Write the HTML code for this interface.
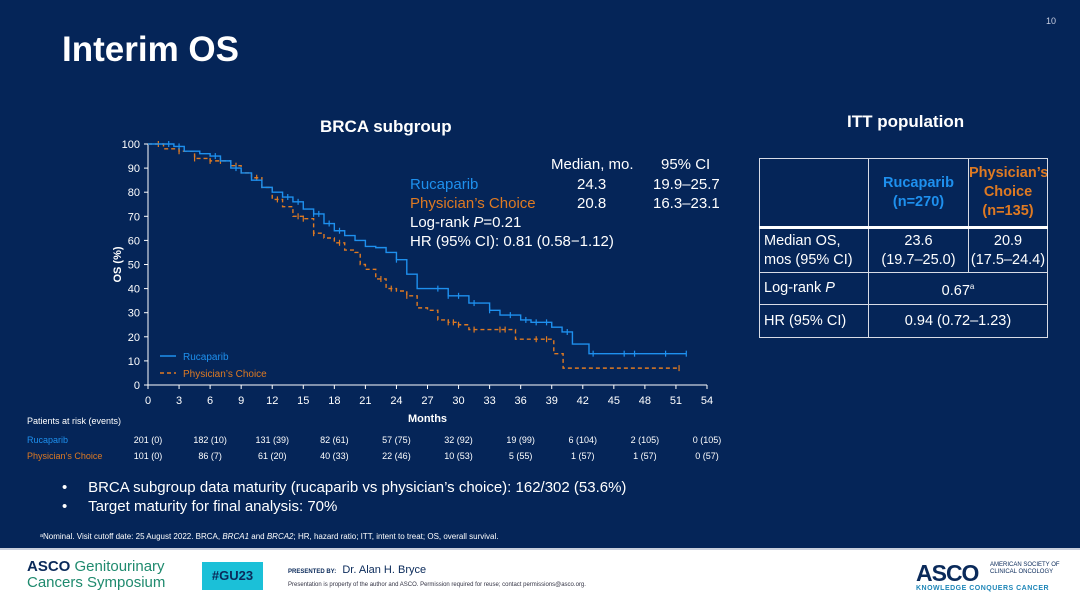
<!DOCTYPE html>
<html><head><meta charset="utf-8">
<style>
*{margin:0;padding:0;box-sizing:border-box}
body{width:1080px;height:597px;overflow:hidden;background:#fff;font-family:"Liberation Sans",sans-serif;position:relative}
.slide{position:absolute;left:0;top:0;width:1080px;height:548px;background:#052558}
.abs{position:absolute;white-space:nowrap}
.w{color:#fff}
.blue{color:#1e90ee}.orange{color:#df7a22}
table.itt{position:absolute;left:759px;top:158px;width:288px;table-layout:fixed;border-collapse:collapse;color:#fff;font-size:14.5px}
table.itt td{border:1.5px solid #d8dce6;text-align:center;line-height:19px;overflow:hidden}
</style></head><body>
<div class="slide">
<div class="abs w" style="left:62px;top:30px;font-size:35px;font-weight:bold">Interim OS</div>
<div class="abs" style="left:1046px;top:16px;font-size:9px;color:#c8cde0">10</div>
<div class="abs w" style="left:320px;top:117px;font-size:17px;font-weight:bold">BRCA subgroup</div>
<div class="abs w" style="left:847px;top:112px;font-size:17px;font-weight:bold">ITT population</div>

<svg id="chart" class="abs" style="left:0;top:0" width="1080" height="548"></svg>

<div class="abs w" style="left:551px;top:156px;font-size:15px">Median, mo.</div>
<div class="abs w" style="left:661px;top:156px;font-size:15px">95% CI</div>
<div class="abs blue" style="left:410px;top:176px;font-size:15px">Rucaparib</div>
<div class="abs w" style="left:577px;top:176px;font-size:15px">24.3</div>
<div class="abs w" style="left:653px;top:176px;font-size:15px">19.9–25.7</div>
<div class="abs orange" style="left:410px;top:195px;font-size:15px">Physician’s Choice</div>
<div class="abs w" style="left:577px;top:195px;font-size:15px">20.8</div>
<div class="abs w" style="left:653px;top:195px;font-size:15px">16.3–23.1</div>
<div class="abs w" style="left:410px;top:214px;font-size:15px">Log-rank <i>P</i>=0.21</div>
<div class="abs w" style="left:410px;top:233px;font-size:15px">HR (95% CI): 0.81 (0.58−1.12)</div>

<div class="abs w" style="left:27px;top:416px;font-size:9px">Patients at risk (events)</div>
<div class="abs blue" style="left:27px;top:435px;font-size:9px">Rucaparib</div>
<div class="abs orange" style="left:27px;top:451px;font-size:9px">Physician’s Choice</div>
<div id="risk"></div>

<div class="abs w" style="left:62px;top:479px;font-size:15px">•&nbsp;&nbsp;&nbsp;&nbsp;&nbsp;BRCA subgroup data maturity (rucaparib vs physician’s choice): 162/302 (53.6%)</div>
<div class="abs w" style="left:62px;top:498px;font-size:15px">•&nbsp;&nbsp;&nbsp;&nbsp;&nbsp;Target maturity for final analysis: 70%</div>
<div class="abs w" style="left:40px;top:532px;font-size:8px">ᵃNominal. Visit cutoff date: 25 August 2022. BRCA, <i>BRCA1</i> and <i>BRCA2</i>; HR, hazard ratio; ITT, intent to treat; OS, overall survival.</div>

<table class="itt">
<colgroup><col style="width:109px"><col style="width:100px"><col style="width:79px"></colgroup>
<tr style="height:69px"><td></td><td style="font-weight:bold" class="blue">Rucaparib<br>(n=270)</td><td style="font-weight:bold" class="orange">Physician’s<br>Choice<br>(n=135)</td></tr>
<tr style="height:45px;border-top:3px solid #fff"><td style="text-align:left;padding-left:4px">Median OS,<br>mos (95% CI)</td><td>23.6<br>(19.7–25.0)</td><td>20.9<br>(17.5–24.4)</td></tr>
<tr style="height:32px"><td style="text-align:left;padding-left:4px">Log-rank <i>P</i></td><td colspan="2">0.67<sup style="font-size:8px">a</sup></td></tr>
<tr style="height:33px"><td style="text-align:left;padding-left:4px">HR (95% CI)</td><td colspan="2">0.94 (0.72–1.23)</td></tr>
</table>
</div>

<div class="abs" style="left:0;top:548px;width:1080px;height:2px;background:#c9cfdc"></div>
<div class="abs" style="left:27px;top:559px;font-size:15px;line-height:16px;color:#1f8a6e"><b style="color:#0a2a5a">ASCO</b> Genitourinary<br>Cancers Symposium</div>
<div class="abs" style="left:202px;top:562px;width:61px;height:28px;background:#1bc0d8;color:#0a2a5a;font-weight:bold;font-size:13px;line-height:28px;text-align:center">#GU23</div>
<div class="abs" style="left:288px;top:564px;font-size:11px;color:#0a2a5a"><span style="font-size:6px;font-weight:bold">PRESENTED BY:</span>&nbsp; Dr. Alan H. Bryce</div>
<div class="abs" style="left:288px;top:582px;font-size:6px;color:#334">Presentation is property of the author and ASCO. Permission required for reuse; contact permissions@asco.org.</div>
<div class="abs" style="left:916px;top:560px;font-size:23px;font-weight:bold;color:#0a2a5a;letter-spacing:-1px">ASCO</div>
<div class="abs" style="left:990px;top:562px;font-size:6px;line-height:7px;color:#0a2a5a">AMERICAN SOCIETY OF<br>CLINICAL ONCOLOGY</div>
<div class="abs" style="left:916px;top:585px;font-size:7px;font-weight:bold;color:#1e86b8;letter-spacing:0.5px">KNOWLEDGE CONQUERS CANCER</div>

<script>
const xTicks=[0,3,6,9,12,15,18,21,24,27,30,33,36,39,42,45,48,51,54];
const yTicks=[0,10,20,30,40,50,60,70,80,90,100];
const rucMonths=[0,2.5,3.5,5,6,7,8,9,10,11,12,13,14,15,16,17,18,19,20,21,22,23,24,25,26,28,29,31,33,34,36,37,39,40,41,42.6,52];
const rucSurv=[100,99,97,96,95,93,90,88,85,82,80,78,76,73,71,67,64,62,60,57.5,57,55,52,46,40,40,37,34,31,29,27,26,24,22,17,13,13];
const rucCensor=[2,3,6.5,8.5,13.5,14.5,16,16.5,17.5,18.5,24,28,29,30,31.5,33,35,36.5,37.5,38.5,40.5,43,46,47,50,52];
const pcMonths=[0,1.5,3,4.5,6,8,9,10,11,12,13,14,15,16,17,18,19,20,20.5,21,22,23,24,25,26,27,28,29,30,31,35.5,39.2,40.1,51.3];
const pcSurv=[100,98,97,94,93,91,88,86,82,77,74,70,69,63,61,59,56,55,50,48,44,40,39,37,32,31,27,26,25,23,19,13,7,7];
const pcCensor=[1,3,4.5,6,7,8.5,10.5,12.5,14.5,15,16,18.5,22.5,23.5,25,29,29.5,30,31.5,34,34.5,37.5,38.5,51.3];
const riskRuc=["201 (0)","182 (10)","131 (39)","82 (61)","57 (75)","32 (92)","19 (99)","6 (104)","2 (105)","0 (105)"];
const riskPc=["101 (0)","86 (7)","61 (20)","40 (33)","22 (46)","10 (53)","5 (55)","1 (57)","1 (57)","0 (57)"];
const riskMonths=[0,6,12,18,24,30,36,42,48,54];

const X0=148,X1=707,Y0=385,Y1=144;
const xs=m=>X0+(X1-X0)*m/54;
const ys=v=>Y0-(Y0-Y1)*v/100;
const svg=document.getElementById('chart');
const NS='http://www.w3.org/2000/svg';
function mk(t,a){const e=document.createElementNS(NS,t);for(const k in a)e.setAttribute(k,a[k]);svg.appendChild(e);return e;}

let ax=mk('path',{d:`M${X0} ${Y1}V${Y0}H${X1}`,stroke:'#fff',fill:'none','stroke-width':1});


xTicks.forEach(t=>{
  const l=mk('line',{x1:xs(t),x2:xs(t),y1:Y0,y2:Y0+4,stroke:'#fff'});
  
  
  const tx=mk('text',{x:xs(t),y:Y0+19,fill:'#fff','font-size':11,'text-anchor':'middle','font-family':'Liberation Sans'});
  tx.textContent=t;
  
  
});
yTicks.forEach(t=>{
  const l=mk('line',{x1:X0-4,x2:X0,y1:ys(t),y2:ys(t),stroke:'#fff'});
  
  
  const tx=mk('text',{x:X0-8,y:ys(t)+4,fill:'#fff','font-size':11,'text-anchor':'end','font-family':'Liberation Sans'});
  tx.textContent=t;
  
  
});
let xt=mk('text',{x:(X0+X1)/2,y:422,fill:'#fff','font-size':11,'font-weight':'bold','text-anchor':'middle','font-family':'Liberation Sans'});
xt.textContent='Months';


let yt=mk('text',{x:0,y:0,fill:'#fff','font-size':11,'font-weight':'bold','text-anchor':'middle','font-family':'Liberation Sans',transform:`translate(121,${(Y0+Y1)/2}) rotate(-90)`});
yt.textContent='OS (%)';



function survAt(ms,sv,m){let v=sv[0];for(let i=0;i<ms.length;i++){if(ms[i]<=m)v=sv[i];}return v;}
function stepPath(ms,sv){let d=`M${xs(ms[0])} ${ys(sv[0])}`;for(let i=1;i<ms.length;i++){d+=`H${xs(ms[i])}V${ys(sv[i])}`;}return d;}
function series(ms,sv,cs,color,dash,name){
  const p=mk('path',{d:stepPath(ms,sv),stroke:color,fill:'none','stroke-width':1.4,'stroke-dasharray':dash});
  
  
  cs.forEach(m=>{
    const y=ys(survAt(ms,sv,m));
    const c=mk('line',{x1:xs(m),x2:xs(m),y1:y-3,y2:y+3,stroke:color,'stroke-width':1.2});
    
    
  });
}
series(pcMonths,pcSurv,pcCensor,'#df7a22','4 3','physicians-choice');
series(rucMonths,rucSurv,rucCensor,'#1e90ee','none','rucaparib');

[['Rucaparib','#1e90ee','none',356],['Physician’s Choice','#df7a22','4 3',373]].forEach(r=>{
  const l=mk('line',{x1:160,x2:176,y1:r[3],y2:r[3],stroke:r[1],'stroke-width':1.5,'stroke-dasharray':r[2]});
  
  
  const t=mk('text',{x:183,y:r[3]+4,fill:r[1],'font-size':10,'font-family':'Liberation Sans'});
  t.textContent=r[0];
  
  
});

const risk=document.getElementById('risk');
function riskRow(vals,top,color,name){
  vals.forEach((v,i)=>{
    const d=document.createElement('div');
    d.className='abs';
    d.style.cssText=`left:${xs(riskMonths[i])-20}px;width:40px;text-align:center;top:${top}px;font-size:9px;color:${color}`;
    d.textContent=v;
    
    
    risk.appendChild(d);
  });
}
riskRow(riskRuc,435,'#fff','rucaparib');
riskRow(riskPc,451,'#fff','physicians-choice');
</script>
</body></html>
